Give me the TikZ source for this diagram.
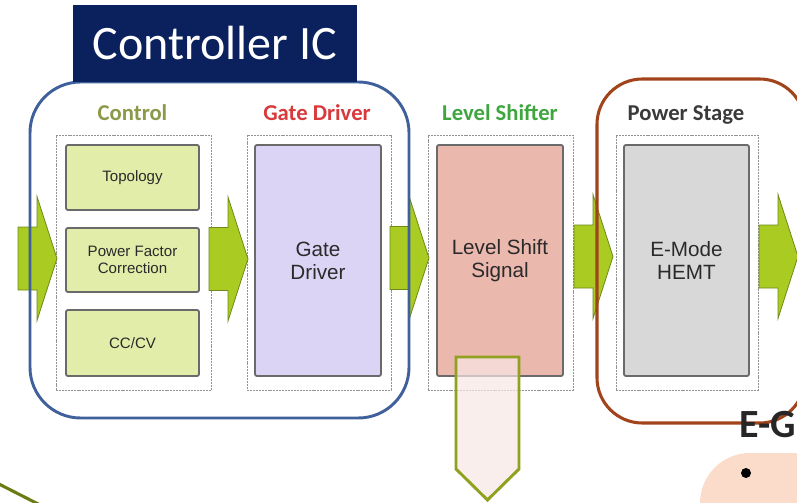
\documentclass[tikz,border=0pt]{standalone}
\usepackage{fontspec}
\setmainfont{Liberation Sans}
\newfontfamily\calibri{Carlito}

\definecolor{titlenavy}{HTML}{0B215E}
\definecolor{icblue}{HTML}{40609C}
\definecolor{stagebrown}{HTML}{A2441B}
\definecolor{ctrlolive}{HTML}{8A9A48}
\definecolor{gdred}{HTML}{D8393B}
\definecolor{lsgreen}{HTML}{3FA63F}
\definecolor{psgray}{HTML}{3A3A3A}
\definecolor{blocktext}{HTML}{2A2A2A}
\definecolor{ctrlfill}{HTML}{E3EDAA}
\definecolor{gdfill}{HTML}{DCD4F5}
\definecolor{lsfill}{HTML}{EBB8AE}
\definecolor{psfill}{HTML}{D8D8D8}
\definecolor{boxedge}{HTML}{6A6A6A}
\definecolor{flowgreen}{HTML}{A9CB22}
\definecolor{flowedge}{HTML}{6F8A1A}
\definecolor{outolive}{HTML}{8FA11E}
\definecolor{outfill}{HTML}{F7E7E3}
\definecolor{peach}{HTML}{FBDCCB}
\definecolor{darktext}{HTML}{262626}
\definecolor{strokeolive}{HTML}{6B7A12}

\tikzset{
  frame/.style={draw=gray!85, line width=0.7pt, dash pattern=on 1.5pt off 0.7pt,
    inner sep=0pt},
  blockbox/.style={draw=boxedge, line width=1.4pt, rounded corners=1.5pt,
    inner sep=0pt, align=center, text=blocktext},
  stagelabel/.style={font=\calibri\bfseries\fontsize{17}{18}\selectfont, anchor=base},
  bigtext/.style={font=\fontsize{15.5}{17.3}\selectfont},
  smalltext/.style={font=\fontsize{11.3}{12.8}\selectfont},
  flowarrow/.pic={
    \draw[fill=flowgreen, draw=flowedge, line width=0.6pt, line join=miter]
      (0,0) -- (-20,-62) -- (-20,-31.5) -- (-39,-31.5) -- (-39,31.5)
      -- (-20,31.5) -- (-20,62) -- cycle;
  }
}

\begin{document}
\begin{tikzpicture}[x=0.75pt,y=-0.75pt]
\useasboundingbox (0,0) rectangle (797,503);
\clip (0,0) rectangle (797,503);

% panel in the lower right corner
\fill[peach, rounded corners=37.5pt] (700,453) rectangle (900,700);
\fill[black] (746,473) circle[radius=5];

% dotted frames of the four stages
\node[frame, minimum width=116.25pt, minimum height=191.25pt] (ctrlframe) at (133.5,262.5) {};
\node[frame, minimum width=108pt, minimum height=191.25pt] (gdframe) at (319,262.5) {};
\node[frame, minimum width=108.75pt, minimum height=191.25pt] (lsframe) at (500.5,262.5) {};
\node[frame, minimum width=106.5pt, minimum height=191.25pt] (psframe) at (687,262.5) {};

% control blocks
\node[blockbox, fill=ctrlfill, smalltext, minimum width=99.75pt, minimum height=48.75pt]
  (topo) at (132.5,177.5) {Topology};
\node[blockbox, fill=ctrlfill, smalltext, minimum width=99.75pt, minimum height=48pt]
  (pfc) at (132.5,260) {Power Factor\\Correction};
\node[blockbox, fill=ctrlfill, smalltext, minimum width=99.75pt, minimum height=49.5pt]
  (cccv) at (132.5,343) {CC/CV};

% stage blocks
\node[blockbox, fill=gdfill, bigtext, minimum width=94.5pt, minimum height=173.25pt]
  (gd) at (318,260.5) {Gate\\Driver};
\node[blockbox, fill=lsfill, bigtext, minimum width=94.5pt, minimum height=173.25pt]
  (ls) at (500,260.5) {Level Shift\\Signal};
\node[blockbox, fill=psfill, bigtext, minimum width=93.75pt, minimum height=173.25pt]
  (hemt) at (686.5,260.5) {E-Mode\\HEMT};

% signal flow arrows
\pic at (57,258.5) {flowarrow};
\pic at (248,259) {flowarrow};
\pic at (429,258) {flowarrow};
\pic at (613,256.5) {flowarrow};
\pic at (798,256.5) {flowarrow};

% controller IC outline and power stage outline
\draw[icblue, line width=2.2pt, rounded corners=38pt] (30,82) rectangle (409,418);
\draw[stagebrown, line width=2.3pt, rounded corners=34pt] (597,79) rectangle (805,423);

% title tab
\node[fill=titlenavy, minimum width=213pt, minimum height=57.75pt, inner sep=0pt]
  (titlebox) at (215,43.5) {};
\node[text=white, font=\calibri\fontsize{36}{40}\selectfont, anchor=base]
  (title) at (215,60) {Controller IC};

% stage headings
\node[stagelabel, text=ctrlolive] (lctrl) at (132.5,121) {Control};
\node[stagelabel, text=gdred] (lgd) at (317,121) {Gate Driver};
\node[stagelabel, text=lsgreen] (lls) at (500,121) {Level Shifter};
\node[stagelabel, text=psgray] (lps) at (686,121) {Power Stage};

% output arrow below the level shifter
\draw[outolive, line width=2.2pt, fill=outfill, fill opacity=0.7, line join=miter]
  (456,357) -- (519,357) -- (519,469) -- (487.5,500) -- (456,469) -- cycle;

% olive stroke at the lower left
\draw[strokeolive, line width=2.3pt] (-5,482) -- (45,507.5);

% heading at the lower right
\node[anchor=base west, text=darktext, font=\calibri\bfseries\fontsize{30}{32}\selectfont,
  inner sep=0pt] (eg) at (739,437) {E-G};
\end{tikzpicture}
\end{document}
